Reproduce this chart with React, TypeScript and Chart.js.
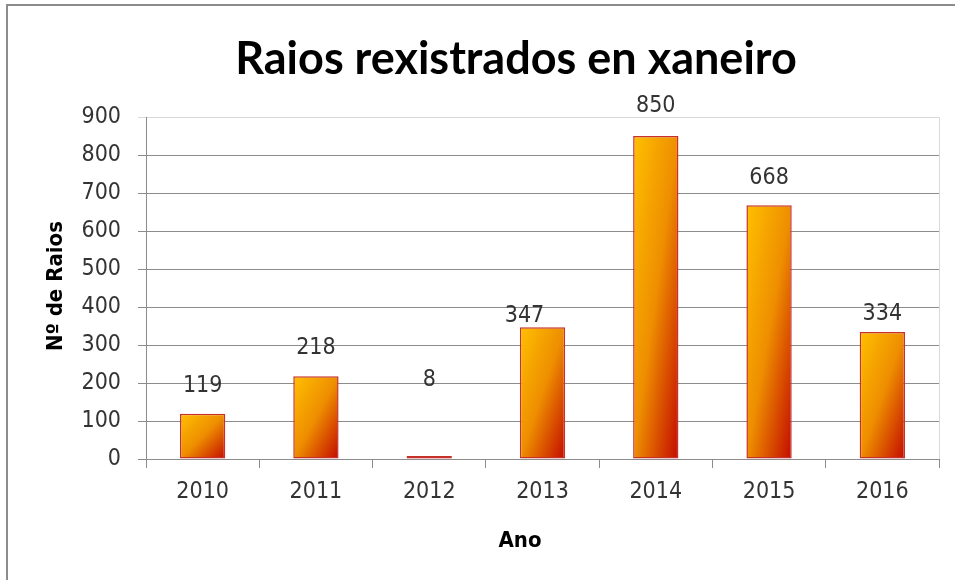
import React, { useEffect, useRef } from "react";
import { Chart, registerables } from "chart.js";

Chart.register(...registerables);

const years = ["2010", "2011", "2012", "2013", "2014", "2015", "2016"];
const raios = [119, 218, 8, 347, 850, 668, 334];
const yTicksMax = 900;
const yTickStep = 100;
const chartTitle = "Raios rexistrados en xaneiro";
const xTitle = "Ano";
const yTitle = "Nº de Raios";

// label placement tweaks (pixels above bar top), style only
const labelLift = [28, 28, 76, 11, 30, 27, 18];
const labelShift = [0, 0, 0, -18, 0, 0, 0];

const TICK_FONT = "'DejaVu Sans Condensed', 'DejaVu Sans', sans-serif";
const BOLD_FONT = "'DejaVu Sans Condensed', 'DejaVu Sans', sans-serif";
const TITLE_FONT = "Lato, 'Open Sans', sans-serif";

const BAR_PCT = 0.4;

function barGradient(ctx: any) {
  const chart = ctx.chart;
  if (ctx.type !== "data" || !chart.chartArea) return "#F0A000";
  const xs = chart.scales.x;
  const ys = chart.scales.y;
  if (!xs || !ys) return "#F0A000";
  const cx = xs.getPixelForValue(ctx.dataIndex);
  const w = (xs.width / years.length) * BAR_PCT;
  const top = ys.getPixelForValue(ctx.raw);
  const base = ys.getPixelForValue(0);
  const h = Math.max(base - top, 1);
  const L = cx - w / 2;
  const k = (2 * w * h) / (h * h + w * w);
  const g = chart.ctx.createLinearGradient(L, top, L + h * k, top + w * k);
  g.addColorStop(0, "#FFC000");
  g.addColorStop(0.5, "#EE8E00");
  g.addColorStop(1, "#C20A00");
  return g;
}

const decorPlugin = {
  id: "decor",
  beforeDraw(chart: any) {
    const c = chart.ctx;
    c.save();
    c.fillStyle = "#ffffff";
    c.fillRect(0, 0, chart.width, chart.height);
    c.strokeStyle = "#8c8c8c";
    c.lineWidth = 2;
    c.strokeRect(7, 5, chart.width + 20, chart.height + 20);
    const a = chart.chartArea;
    c.strokeStyle = "#d9d9d9";
    c.lineWidth = 1;
    c.beginPath();
    c.moveTo(a.right + 0.5, a.top);
    c.lineTo(a.right + 0.5, a.bottom);
    c.stroke();
    c.restore();
  },
  afterDraw(chart: any) {
    const c = chart.ctx;
    c.save();
    c.fillStyle = "#000000";
    c.textAlign = "center";
    c.textBaseline = "alphabetic";
    c.font = "bold 45px " + TITLE_FONT;
    c.fillText(chartTitle, 516, 74);
    c.font = "bold 22px " + BOLD_FONT;
    c.textBaseline = "middle";
    c.fillText(xTitle, 520, 541);
    c.save();
    c.translate(56, 286);
    c.rotate(-Math.PI / 2);
    c.fillText(yTitle, 0, 0);
    c.restore();
    const meta = chart.getDatasetMeta(0);
    c.font = "23px " + TICK_FONT;
    c.fillStyle = "#333333";
    meta.data.forEach((bar: any, i: number) => {
      c.fillText(String(raios[i]), bar.x + labelShift[i], bar.y - labelLift[i]);
    });
    c.restore();
  },
};

export default function App() {
  const ref = useRef<HTMLCanvasElement | null>(null);
  useEffect(() => {
    if (!ref.current) return;
    const chart = new Chart(ref.current, {
      type: "bar",
      data: {
        labels: years,
        datasets: [
          {
            data: raios,
            backgroundColor: barGradient,
            borderColor: "#C8302A",
            borderWidth: 1.5,
            borderSkipped: false,
            barPercentage: BAR_PCT,
            categoryPercentage: 1,
          },
        ],
      },
      options: {
        animation: false,
        responsive: false,
        maintainAspectRatio: false,
        layout: { padding: { top: 117, right: 16, left: 0, bottom: 0 } },
        plugins: {
          legend: { display: false },
          title: { display: false },
          tooltip: { enabled: false },
        },
        scales: {
          x: {
            offset: true,
            afterFit(scale: any) {
              scale.height = 121;
            },
            grid: {
              display: true,
              offset: true,
              drawOnChartArea: false,
              drawTicks: true,
              tickLength: 9,
              color: "#8c8c8c",
            },
            border: { display: true, color: "#8c8c8c", width: 1 },
            ticks: {
              font: { family: TICK_FONT, size: 23 },
              color: "#333333",
              padding: 10,
              maxRotation: 0,
            },
          },
          y: {
            min: 0,
            max: yTicksMax,
            afterFit(scale: any) {
              scale.width = 146;
            },
            ticks: {
              stepSize: yTickStep,
              font: { family: TICK_FONT, size: 23 },
              color: "#333333",
              padding: 17,
            },
            grid: {
              color: (ctx: any) =>
                ctx.tick && ctx.tick.value === yTicksMax ? "#d9d9d9" : "#8c8c8c",
              tickLength: 8,
              drawTicks: true,
            },
            border: { display: true, color: "#8c8c8c", width: 1 },
          },
        },
      },
      plugins: [decorPlugin],
    });
    return () => chart.destroy();
  }, []);
  return (
    <div style={{ position: "absolute", left: 0, top: 0, width: 955, height: 580 }}>
      <canvas ref={ref} width={955} height={580} style={{ width: 955, height: 580 }} />
    </div>
  );
}
